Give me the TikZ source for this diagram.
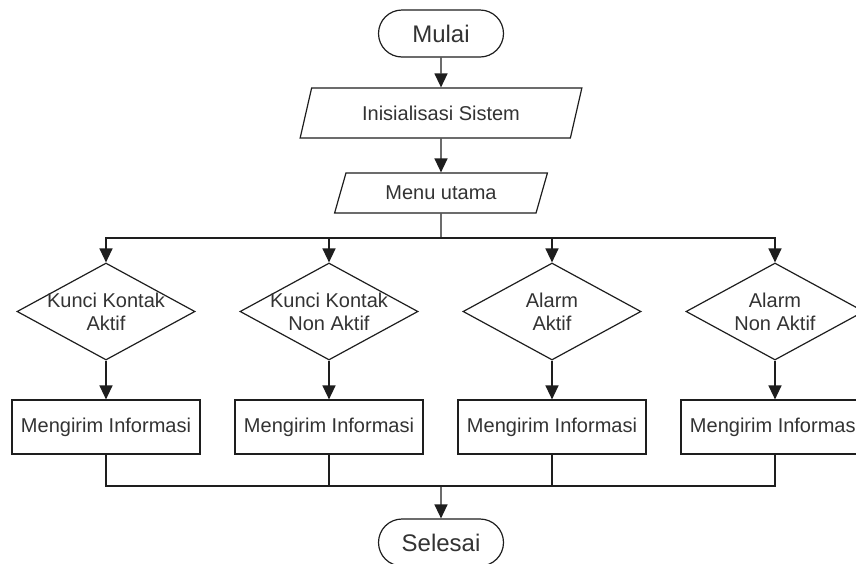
\documentclass[tikz,border=0pt]{standalone}
\usepackage{fontspec}
\setmainfont{Liberation Sans}
\usetikzlibrary{shapes.geometric,shapes.misc,arrows.meta}
\definecolor{ink}{HTML}{1E1E1E}
\definecolor{txt}{HTML}{333333}
\begin{document}
\begin{tikzpicture}[x=1pt,y=-1pt,
  line/.style={draw=ink, line width=1.4pt},
  arr/.style={line, -{Triangle[width=13pt,length=14pt]}},
  shp/.style={draw=ink, line width=1.2pt, text=txt, inner sep=0pt},
  term/.style={shp, rounded rectangle, minimum width=125pt, minimum height=47pt, font=\fontsize{24}{28}\selectfont},
  io/.style={shp, trapezium, trapezium left angle=64.5, trapezium right angle=115.5, trapezium stretches=true, font=\fontsize{20}{23}\selectfont},
  dec/.style={shp, diamond, minimum width=178pt, minimum height=97pt},
  proc/.style={shp, rectangle, minimum width=188pt, minimum height=54pt, font=\fontsize{20}{23}\selectfont},
  dtext/.style={align=center, text=txt, font=\fontsize{20}{23}\selectfont}
]
\useasboundingbox (0,0) rectangle (856,563);
\fill[white] (0,0) rectangle (856,563);
\clip (0,0) rectangle (856,563);

\node[term] (mulai) at (441,33.5) {Mulai};
\node[io, minimum width=282pt, minimum height=50pt] (init) at (441,113) {Inisialisasi Sistem};
\node[io, minimum width=213pt, minimum height=40pt] (menu) at (441,193) {Menu utama};
\coordinate (split) at (441,238);

\node[dec] (d1) at (106,311.5) {};
\node[dec] (d2) at (329,311.5) {};
\node[dec] (d3) at (552,311.5) {};
\node[dec] (d4) at (775,311.5) {};
\node[dtext] (t1) at (d1.center) {Kunci Kontak\\Aktif};
\node[dtext] (t2) at (d2.center) {Kunci Kontak\\Non Aktif};
\node[dtext] (t3) at (d3.center) {Alarm\\Aktif};
\node[dtext] (t4) at (d4.center) {Alarm\\Non Aktif};

\node[proc] (p1) at (106,427) {Mengirim Informasi};
\node[proc] (p2) at (329,427) {Mengirim Informasi};
\node[proc] (p3) at (552,427) {Mengirim Informasi};
\node[proc] (p4) at (775,427) {Mengirim Informasi};

\coordinate (join) at (441,486);
\node[term] (selesai) at (441,542.5) {Selesai};

\draw[arr] (mulai) -- (init);
\draw[arr] (init) -- (menu);
\draw[line] (menu.south) -- (split);
\foreach \d in {d1,d2,d3,d4} {
  \draw[arr] (split) -| (\d.north);
}
\foreach \i in {1,2,3,4} {
  \draw[arr] (d\i.south) -- (p\i.north);
  \draw[line] (p\i.south) |- (join);
}
\draw[arr] (join) -- (selesai);
\end{tikzpicture}
\end{document}
